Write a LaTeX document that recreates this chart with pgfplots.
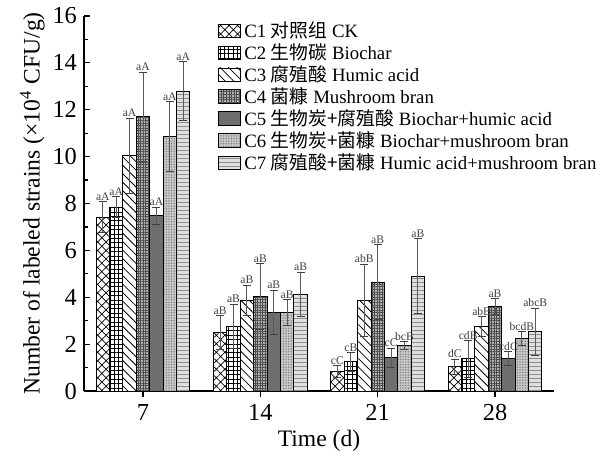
\documentclass[border=0pt]{standalone}
\usepackage{pgfplots}
\pgfplotsset{compat=1.18}
\usepackage{pgfplotstable}
\usepackage{fontspec}
\setmainfont{Liberation Serif}
\newfontfamily\cjk{Noto Sans CJK SC}
\usetikzlibrary{patterns.meta}

% columns: day, mean, standard deviation, significance letters
\pgfplotstableread{
x y err lab
7 7.42 0.65 aA
14 2.49 0.73 aB
21 0.82 0.25 cC
28 1.03 0.33 dC
}\tA
\pgfplotstableread{
x y err lab
7 7.85 0.43 aA
14 2.75 0.95 aB
21 1.24 0.40 cB
28 1.37 0.78 cdB
}\tB
\pgfplotstableread{
x y err lab
7 10.04 1.60 aA
14 3.86 0.65 aB
21 3.86 1.55 abB
28 2.75 0.43 abB
}\tC
\pgfplotstableread{
x y err lab
7 11.70 1.90 aA
14 4.03 1.40 aB
21 4.64 1.60 aB
28 3.60 0.35 aB
}\tD
\pgfplotstableread{
x y err lab
7 7.47 0.38 aA
14 3.35 0.95 aB
21 1.42 0.40 cC
28 1.37 0.30 cdC
}\tE
\pgfplotstableread{
x y err lab
7 10.85 1.50 aA
14 3.35 0.55 aB
21 1.93 0.17 bcB
28 2.23 0.30 bcdB
}\tF
\pgfplotstableread{
x y err lab
7 12.80 1.25 aA
14 4.12 0.95 aB
21 4.89 1.60 aB
28 2.53 1.00 abcB
}\tG

\begin{document}
\begin{tikzpicture}
\begin{axis}[
  scale only axis,
  width=235pt, height=187.5pt,
  xmin=3.48, xmax=31.52,
  ymin=0, ymax=16,
  axis x line*=bottom, axis y line*=left,
  axis line style={-, line width=0.7pt},
  xtick={7,14,21,28},
  ytick={0,2,...,16},
  minor y tick num=1,
  tick align=inside,
  major tick length=3pt, minor tick length=1.8pt,
  tick style={black, line width=0.6pt},
  ticklabel style={font=\fontsize{12.2}{13}\selectfont},
  /pgf/number format/assume math mode=true,
  xlabel={Time (d)},
  ylabel={Number of labeled strains (×10\textsuperscript{4} CFU/g)},
  label style={font=\fontsize{11.8}{13}\selectfont},
  xlabel style={yshift=2pt},
  ylabel style={yshift=-3pt},
  ybar, bar width=0.8,
  every axis plot/.append style={draw=black, line width=0.45pt},
  error bars/y dir=both, error bars/y explicit,
  error bars/error bar style={black!65, line width=0.5pt},
  error bars/error mark options={rotate=90, mark size=2pt, black!75, line width=0.5pt},
  nodes near coords,
  point meta=explicit symbolic,
  visualization depends on={\thisrow{err} \as \errv},
  every node near coord/.append style={font=\fontsize{5.8}{6.5}\selectfont, text=black!75,
    inner sep=0.4pt, anchor=south, shift={(axis direction cs:0,\errv)}},
  legend style={draw=none, fill=none, at={(0.272,1.005)}, anchor=north west,
    font=\fontsize{9.4}{10}\selectfont, row sep=-1.7pt,
    nodes={inner sep=1.6pt},
    /tikz/every even column/.append style={column sep=1.5pt}},
  legend cell align=left,
  legend image code/.code={\draw[#1, line width=0.45pt] (0pt,-3.4pt) rectangle (11pt,3.4pt);},
]
\addplot[fill=white, postaction={pattern={Hatch[angle=45,distance=3pt,line width=0.35pt]}}, bar shift=-2.4]
  table[x=x, y=y, y error=err, meta=lab]{\tA};
\addlegendentry{C1 {\cjk 对照组} CK}
\addplot[fill=white, postaction={pattern={Hatch[angle=0,distance=2.2pt,line width=0.35pt]}}, bar shift=-1.6]
  table[x=x, y=y, y error=err, meta=lab]{\tB};
\addlegendentry{C2 {\cjk 生物碳} Biochar}
\addplot[fill=white, postaction={pattern={Lines[angle=-45,distance=3pt,line width=0.4pt]}}, bar shift=-0.8]
  table[x=x, y=y, y error=err, meta=lab]{\tC};
\addlegendentry{C3 {\cjk 腐殖酸} Humic acid}
\addplot[fill=black!30, postaction={pattern={Hatch[angle=0,distance=1.3pt,line width=0.25pt]}, pattern color=black!70}, bar shift=0]
  table[x=x, y=y, y error=err, meta=lab]{\tD};
\addlegendentry{C4 {\cjk 菌糠} Mushroom bran}
\addplot[fill=black!57, bar shift=0.8]
  table[x=x, y=y, y error=err, meta=lab]{\tE};
\addlegendentry{C5 {\cjk 生物炭+腐殖酸} Biochar+humic acid}
\addplot[fill=black!22, postaction={pattern={Dots[distance=1.3pt,radius=0.35pt]}, pattern color=black!55}, bar shift=1.6]
  table[x=x, y=y, y error=err, meta=lab]{\tF};
\addlegendentry{C6 {\cjk 生物炭+菌糠} Biochar+mushroom bran}
\addplot[fill=black!12, postaction={pattern={Lines[angle=0,distance=2pt,line width=0.3pt]}, pattern color=black!45}, bar shift=2.4]
  table[x=x, y=y, y error=err, meta=lab]{\tG};
\addlegendentry{C7 {\cjk 腐殖酸+菌糠} Humic acid+mushroom bran}
\coordinate (o) at (rel axis cs:0,0);
\end{axis}
\path (o) ++(-42pt,-31.5pt);
\path (o) ++(265pt,195.5pt);
\end{tikzpicture}
\end{document}
